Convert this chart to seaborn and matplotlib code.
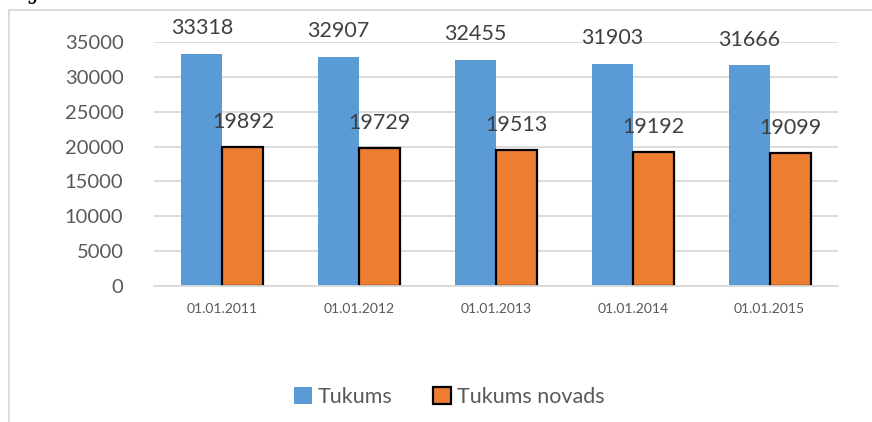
import matplotlib
matplotlib.use("Agg")
import matplotlib.pyplot as plt
import seaborn as sns
import pandas as pd
from matplotlib.lines import Line2D
from matplotlib.patches import Patch
from matplotlib.ticker import FixedLocator

# dati
dates = ["01.01.2011", "01.01.2012", "01.01.2013", "01.01.2014", "01.01.2015"]
tukums = [33318, 32907, 32455, 31903, 31666]
tukums_novads = [19892, 19729, 19513, 19192, 19099]
series_names = ["Tukums", "Tukums novads"]
colors = ["#5B9BD5", "#ED7D31"]

df = pd.DataFrame({
    "date": dates * 2,
    "value": tukums + tukums_novads,
    "series": [series_names[0]] * len(dates) + [series_names[1]] * len(dates),
})

sns.set_style("white")
plt.rcParams["font.family"] = ["Lato", "DejaVu Sans"]

fig = plt.figure(figsize=(8.72, 4.22), dpi=100)
ax = fig.add_axes([154 / 872, 1 - 286 / 422, (838 - 154) / 872, (286 - 42) / 422])

sns.barplot(
    data=df, x="date", y="value", hue="series",
    palette=colors, width=0.6, ax=ax, legend=False,
    saturation=1, linewidth=0,
)

# oranЕҫajiem stabiЕҶiem melna mala
for bar in ax.containers[1]:
    bar.set_edgecolor("black")
    bar.set_linewidth(1.6)

for cont in ax.containers:
    ax.bar_label(cont, fmt="%d", padding=11, fontsize=15.5, color="#404040")

ax.set_ylim(0, 35000)
ax.set_xlim(-0.5, len(dates) - 0.5)
ax.set_yticks(range(0, 35001, 5000))
ax.yaxis.grid(True, color="#d9d9d9", linewidth=1.3)
ax.set_axisbelow(True)
for s in ["top", "right", "left"]:
    ax.spines[s].set_visible(False)
ax.spines["bottom"].set_color("#d9d9d9")
ax.spines["bottom"].set_linewidth(1.3)

ax.tick_params(axis="y", length=0, pad=22, labelsize=14.5, labelcolor="#595959")
ax.tick_params(axis="x", which="major", length=0, pad=12, labelsize=10, labelcolor="#595959")
ax.xaxis.set_minor_locator(FixedLocator([i - 0.5 for i in range(len(dates) + 1)]))
ax.tick_params(axis="x", which="minor", length=5, width=1.3, color="#d9d9d9")
ax.set_xlabel("")
ax.set_ylabel("")

handles = [
    Patch(facecolor=colors[0], edgecolor="none"),
    Patch(facecolor=colors[1], edgecolor="black", linewidth=1.6),
]
fig.legend(
    handles, series_names, loc="center", bbox_to_anchor=(449 / 872, 1 - 397 / 422),
    ncol=2, frameon=False, fontsize=15.5, labelcolor="#595959",
    handlelength=0.85, handleheight=0.85, handletextpad=0.25, columnspacing=1.9,
)

# diagrammas rДҒmis
fig.add_artist(Line2D([8.5 / 872, 8.5 / 872], [0, 1 - 9.5 / 422], color="#d9d9d9", linewidth=1.3))
fig.add_artist(Line2D([8.5 / 872, 1], [1 - 9.5 / 422, 1 - 9.5 / 422], color="#d9d9d9", linewidth=1.3))

# nogriezts burts no dokumenta teksta (redzama tikai apakЕЎdaДјa)
fig.text(30 / 872, 1 + 1 / 422, "j", fontsize=18, family="DejaVu Serif", color="black", va="baseline")

fig.savefig("out.png", dpi=100)
